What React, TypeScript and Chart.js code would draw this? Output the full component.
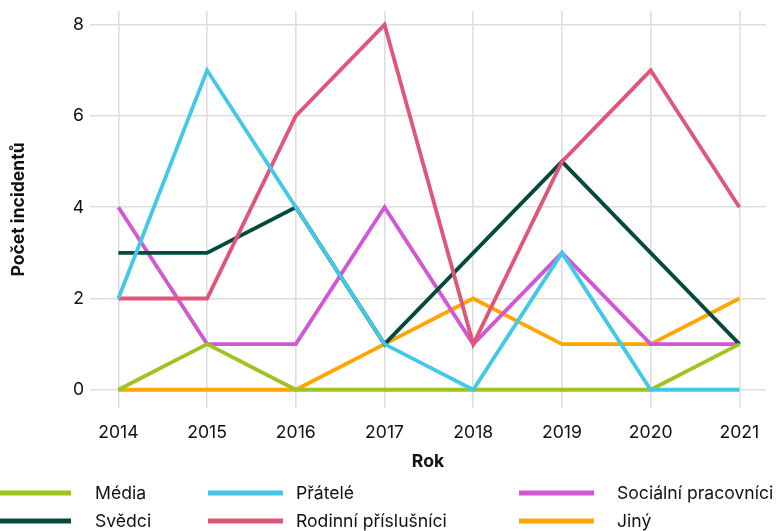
import React, { useEffect, useRef } from "react";
import { Chart, registerables } from "chart.js";

Chart.register(...registerables);

const years = [2014, 2015, 2016, 2017, 2018, 2019, 2020, 2021];
const yTicks = [0, 2, 4, 6, 8];

const media = [0, 1, 0, 0, 0, 0, 0, 1];
const svedci = [3, 3, 4, 1, 3, 5, 3, 1];
const pratele = [2, 7, 4, 1, 0, 3, 0, 0];
const rodinni = [2, 2, 6, 8, 1, 5, 7, 4];
const socialni = [4, 1, 1, 4, 1, 3, 1, 1];
const jiny = [0, 0, 0, 1, 2, 1, 1, 2];

const seriesNames = [
  "Média",
  "Svědci",
  "Přátelé",
  "Rodinní příslušníci",
  "Sociální pracovníci",
  "Jiný",
];
const seriesValues = [media, svedci, pratele, rodinni, socialni, jiny];
const seriesColors = ["#9dc41f", "#064a3e", "#44c8e7", "#df5679", "#d356d4", "#ffa600"];
const seriesOrder = [3, 4, 1, 2, 5, 6];

const FONT = "Inter, 'Noto Sans', sans-serif";
const FS = 17.6;

const legendPlugin = {
  id: "customLegend",
  afterDraw(chart: any) {
    const ctx = chart.ctx;
    const cols = [
      { lineX: -4, labelX: 95 },
      { lineX: 208, labelX: 296 },
      { lineX: 519, labelX: 617 },
    ];
    const rows = [493, 521];
    ctx.save();
    ctx.font = `${FS}px ${FONT}`;
    ctx.textBaseline = "middle";
    ctx.textAlign = "left";
    chart.data.datasets.forEach((ds: any, i: number) => {
      const c = cols[Math.floor(i / 2)];
      const y = rows[i % 2];
      ctx.fillStyle = ds.borderColor;
      ctx.fillRect(c.lineX, y - 2.5, 75, 5);
      ctx.fillStyle = "#111";
      ctx.fillText(ds.label, c.labelX, y + 1);
    });
    ctx.restore();
  },
};

export default function App() {
  const ref = useRef<HTMLCanvasElement>(null);
  useEffect(() => {
    document.body.style.margin = "0";
    const datasets = seriesNames.map((name, i) => ({
      label: name,
      data: years.map((y, j) => ({ x: y, y: seriesValues[i][j] })),
      borderColor: seriesColors[i],
      backgroundColor: seriesColors[i],
      borderWidth: 3.8,
      pointRadius: 0,
      tension: 0,
      fill: false,
      order: seriesOrder[i],
    }));
    const chart = new Chart(ref.current!, {
      type: "line",
      data: { datasets },
      plugins: [legendPlugin],
      options: {
        animation: false,
        responsive: false,
        maintainAspectRatio: false,
        layout: { padding: { top: 11, right: 10, left: 0, bottom: 0 } },
        plugins: {
          legend: { display: false },
          tooltip: { enabled: false },
        },
        scales: {
          x: {
            type: "linear",
            min: 2013.68,
            max: 2021.3,
            afterBuildTicks: (s: any) => {
              s.ticks = years.map((v) => ({ value: v }));
            },
            afterFit: (s: any) => {
              s.height = 123;
              s.paddingLeft = 0;
              s.paddingRight = 0;
            },
            border: { display: false },
            grid: { color: "#dedede", lineWidth: 1.6, drawTicks: false },
            ticks: {
              color: "#111",
              font: { family: FONT, size: FS },
              padding: 14,
              callback: (v: any) => String(v),
            },
            title: {
              display: true,
              text: "Rok",
              color: "#111",
              font: { family: FONT, size: FS, weight: "bold" },
              padding: { top: 0, bottom: 59 },
            },
          },
          y: {
            min: -0.4,
            max: 8.3,
            afterBuildTicks: (s: any) => {
              s.ticks = yTicks.map((v) => ({ value: v }));
            },
            afterFit: (s: any) => {
              s.width = 90;
              s.paddingTop = 0;
              s.paddingBottom = 0;
            },
            border: { display: false },
            grid: { color: "#dedede", lineWidth: 1.6, drawTicks: false },
            ticks: {
              color: "#111",
              font: { family: FONT, size: FS },
              padding: 6,
            },
            title: {
              display: true,
              text: "Počet incidentů",
              color: "#111",
              font: { family: FONT, size: FS, weight: "bold" },
              padding: { top: 8, bottom: 0 },
            },
          },
        },
      },
    });
    return () => chart.destroy();
  }, []);
  return <canvas ref={ref} width={776} height={531} style={{ display: "block" }} />;
}
